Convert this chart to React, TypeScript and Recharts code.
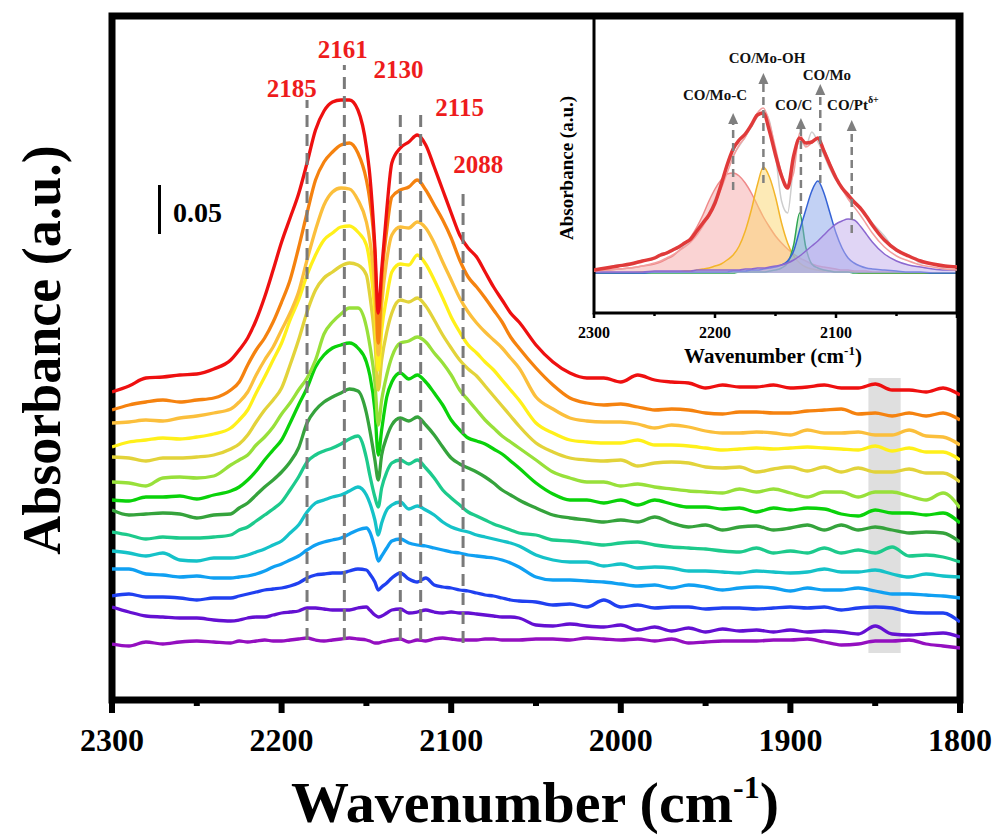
import React from 'react';
import {
  LineChart, ComposedChart, Line, Area, XAxis, YAxis,
  ReferenceLine, ReferenceArea, ReferenceDot,
} from 'recharts';

const FONT = '"Liberation Serif", "Times New Roman", serif';

// ---------- main chart data (wavenumber, cm-1) ----------
const WN = [
  2300, 2290, 2280, 2270, 2260, 2250, 2240, 2230,
  2225, 2220, 2215, 2210, 2205, 2200, 2195, 2190, 2185, 2180, 2175, 2170, 2165, 2160, 2155, 2150,
  2148, 2145, 2143, 2141, 2138, 2135,
  2130, 2125, 2120, 2115, 2110, 2105, 2100, 2095, 2090, 2085, 2080, 2075, 2070, 2065, 2060,
  2050, 2040, 2030, 2020, 2010, 2000, 1990, 1980, 1970, 1960, 1950, 1940, 1930, 1920, 1910, 1900,
  1890, 1880, 1870, 1860, 1850, 1840, 1830, 1820, 1810, 1800,
];

// absorbance with stacking offsets (arbitrary units)
const S_RED = [
  308, 314, 322, 323, 325, 326, 331, 340,
  350, 362, 380, 403, 430, 458, 482, 506, 537, 570, 589, 598, 600, 600, 590, 553,
  525, 453, 387, 430, 490, 537,
  552, 558, 565, 555, 533, 510, 487, 465, 452, 443, 428, 413, 400, 387, 378,
  355, 338, 327, 322, 322, 318, 325, 320, 318, 317, 312, 315, 313, 313, 315, 312, 313, 315, 312, 312, 316, 310, 310, 308, 312, 305,
];
const S_ORANGE = [
  290, 295, 298, 300, 298, 300, 302, 310,
  318, 335, 350, 362, 378, 398, 420, 452, 487, 520, 538, 548, 555, 557, 547, 520,
  500, 445, 357, 420, 470, 503,
  510, 513, 520, 510, 495, 480, 462, 440, 423, 413, 402, 390, 378, 363, 352,
  332, 315, 302, 297, 295, 296, 293, 290, 291, 290, 287, 286, 288, 288, 287, 287, 289, 290, 291, 286, 287, 284, 287, 284, 287, 280,
];
const S_LTORANGE = [
  277, 278, 280, 279, 282, 284, 287, 291,
  298, 308, 325, 340, 353, 370, 387, 408, 440, 470, 495, 508, 512, 511, 500, 478,
  460, 410, 345, 395, 440, 465,
  473, 472, 478, 472, 457, 438, 420, 402, 388, 377, 368, 360, 352, 342, 332,
  303, 291, 282, 279, 278, 278, 276, 272, 275, 273, 269, 267, 267, 268, 267, 265, 270, 267, 267, 268, 265, 265, 270, 264, 263, 255,
];
const S_YELLOW = [
  253, 258, 260, 262, 261, 263, 266, 272,
  280, 290, 307, 323, 340, 357, 380, 400, 425, 445, 460, 467, 473, 474, 468, 455,
  437, 387, 330, 370, 403, 428,
  436, 435, 445, 436, 420, 402, 383, 368, 355, 347, 338, 330, 320, 310, 300,
  277, 267, 260, 258, 257, 257, 260, 255, 255, 254, 252, 250, 251, 252, 251, 252, 253, 252, 251, 250, 254, 249, 252, 248, 248, 240,
];
const S_OLIVE = [
  243, 242, 239, 242, 242, 243, 245, 251,
  256, 265, 278, 290, 300, 312, 335, 360, 388, 410, 422, 428, 434, 437, 435, 425,
  405, 360, 310, 340, 368, 387,
  400, 398, 402, 394, 380, 365, 352, 340, 331, 324, 314, 304, 294, 284, 274,
  257, 248, 242, 240, 239, 240, 234, 237, 238, 237, 233, 232, 233, 228, 231, 233, 229, 233, 228, 232, 228, 228, 231, 227, 227, 218,
];
const S_YGREEN = [
  218, 217, 214, 222, 223, 222, 224, 235,
  240, 245, 255, 263, 273, 286, 297, 310, 322, 340, 366, 378, 386, 392, 392, 373,
  355, 318, 275, 300, 325, 343,
  357, 359, 363, 358, 347, 337, 325, 310, 300, 290, 280, 272, 264, 258, 252,
  240, 228, 222, 218, 218, 214, 216, 213, 211, 209, 208, 207, 211, 208, 211, 207, 203, 208, 208, 203, 208, 208, 204, 200, 207, 192,
];
const S_GREEN = [
  200, 199, 203, 203, 204, 201, 205, 209,
  213, 220, 229, 240, 250, 260, 277, 295, 312, 333, 345, 352, 355, 357, 352, 338,
  325, 290, 245, 270, 303, 318,
  327, 321, 325, 318, 307, 295, 280, 270, 262, 259, 256, 251, 246, 239, 232,
  217, 206, 200, 200, 197, 200, 195, 200, 196, 193, 193, 191, 192, 188, 192, 190, 192, 191, 186, 184, 190, 187, 187, 185, 187, 177,
];
const S_DKGREEN = [
  190, 185, 186, 187, 186, 182, 185, 186,
  192, 197, 205, 213, 220, 228, 238, 252, 277, 290, 298, 303, 307, 311, 309, 287,
  270, 240, 220, 245, 263, 275,
  282, 279, 283, 275, 265, 253, 242, 236, 232, 228, 223, 217, 210, 205, 200,
  192, 185, 182, 180, 178, 180, 178, 183, 177, 173, 175, 170, 173, 174, 170, 172, 175, 170, 175, 170, 173, 170, 167, 168, 167, 158,
];
const S_TEAL = [
  168, 165, 161, 163, 162, 162, 163, 165,
  170, 173, 179, 185, 191, 198, 210, 223, 238, 245, 249, 252, 256, 261, 264, 242,
  225, 203, 193, 212, 228, 237,
  240, 236, 240, 232, 222, 210, 202, 195, 188, 184, 180, 176, 173, 170, 167,
  165, 160, 159, 157, 155, 157, 158, 155, 153, 152, 151, 149, 148, 152, 147, 149, 147, 152, 147, 150, 147, 153, 144, 145, 143, 138,
];
const S_CYAN = [
  149, 147, 144, 147, 140, 139, 142, 142,
  143, 145, 148, 151, 155, 159, 167, 175, 188, 197, 200, 203, 205, 209, 213, 205,
  197, 180, 165, 177, 190, 195,
  198, 191, 194, 190, 185, 178, 173, 170, 168, 165, 163, 161, 159, 157, 154,
  145, 140, 138, 138, 134, 136, 132, 133, 132, 129, 129, 128, 127, 129, 128, 127, 128, 131, 128, 128, 130, 126, 123, 126, 124, 123,
];
const S_SKY = [
  131, 131, 126, 125, 123, 124, 122, 122,
  123, 124, 126, 129, 133, 136, 140, 144, 150, 155, 158, 160, 162, 166, 170, 172,
  168, 152, 139, 144, 152, 159,
  161, 157, 155, 154, 152, 150, 148, 147, 145, 144, 143, 142, 140, 137, 133,
  123, 120, 120, 119, 118, 116, 114, 115, 112, 115, 113, 110, 112, 113, 112, 109, 112, 110, 110, 112, 109, 106, 106, 105, 104, 102,
];
const S_BLUE = [
  104, 106, 103, 103, 102, 100, 102, 102,
  104, 106, 108, 110, 111, 112, 114, 117, 122, 125, 126, 127, 127, 129, 131, 130,
  126, 118, 110, 113, 117, 122,
  127, 121, 118, 122, 115, 113, 112, 110, 109, 107, 105, 104, 102, 100, 99,
  98, 95, 96, 93, 100, 93, 95, 92, 93, 93, 91, 92, 92, 91, 92, 93, 92, 93, 90, 92, 93, 92, 88, 87, 87, 78,
];
const S_VIOLET = [
  93, 88, 84, 83, 82, 82, 80, 79,
  80, 82, 83, 83, 85, 87, 88, 89, 92, 92, 91, 90, 90, 90, 92, 93,
  90, 85, 83, 84, 87, 90,
  91, 87, 88, 90, 88, 87, 88, 87, 87, 86, 85, 84, 83, 83, 82,
  75, 74, 76, 74, 73, 75, 70, 73, 69, 72, 68, 71, 69, 70, 68, 70, 68, 69, 68, 66, 74, 66, 65, 66, 67, 63,
];
const S_PURPLE = [
  56, 54, 58, 56, 58, 59, 58, 57,
  59, 58, 59, 60, 59, 59, 60, 61, 62, 60, 59, 60, 61, 62, 61, 60,
  59, 57, 57, 58, 59, 60,
  61, 58, 60, 59, 61, 62, 61, 60, 60, 60, 61, 61, 60, 60, 60,
  61, 61, 60, 62, 61, 60, 61, 59, 61, 57, 58, 59, 59, 59, 60, 60, 61, 58, 55, 56, 59, 59, 60, 56, 54, 52,
];

// drawn bottom-up so the top (red) spectrum is painted last
const SERIES = [
  { key: 's14', vals: S_PURPLE, color: '#940fc0' },
  { key: 's13', vals: S_VIOLET, color: '#6410d2' },
  { key: 's12', vals: S_BLUE, color: '#2040f0' },
  { key: 's11', vals: S_SKY, color: '#10a0f2' },
  { key: 's10', vals: S_CYAN, color: '#15c2c8' },
  { key: 's9', vals: S_TEAL, color: '#1dca8c' },
  { key: 's8', vals: S_DKGREEN, color: '#35a33c' },
  { key: 's7', vals: S_GREEN, color: '#0ad20a' },
  { key: 's6', vals: S_YGREEN, color: '#98e03a' },
  { key: 's5', vals: S_OLIVE, color: '#e2d33a' },
  { key: 's4', vals: S_YELLOW, color: '#fff01a' },
  { key: 's3', vals: S_LTORANGE, color: '#fbbf3c' },
  { key: 's2', vals: S_ORANGE, color: '#f5820f' },
  { key: 's1', vals: S_RED, color: '#ee1010' },
];

const MAIN_TICKS = [2300, 2250, 2200, 2150, 2100, 2050, 2000, 1950, 1900, 1850, 1800];

// peak markers: [wavenumber position, label, top, bottom]
const PEAK_LINES = [
  { w: 2185, top: 600, bottom: 60 },
  { w: 2163, top: 635, bottom: 60 },
  { w: 2130, top: 592, bottom: 60 },
  { w: 2118, top: 590, bottom: 60 },
  { w: 2093, top: 507, bottom: 57 },
];
const PEAK_LABELS = [
  { text: '2185', w: 2194, v: 612 },
  { text: '2161', w: 2164, v: 651 },
  { text: '2130', w: 2131, v: 631 },
  { text: '2115', w: 2095, v: 593 },
  { text: '2088', w: 2084, v: 536 },
];

const mainRows = WN.map((w, i) => {
  const r: any = { w };
  SERIES.forEach((s) => { r[s.key] = s.vals[i]; });
  return r;
});

// ---------- inset data ----------
const IWN = [
  2300, 2290, 2280, 2270, 2260, 2250,
  2245, 2240, 2235, 2230, 2225, 2220, 2215, 2210, 2205, 2200, 2195, 2190, 2185, 2180, 2175, 2170, 2165, 2160,
  2155, 2150, 2145, 2140, 2135, 2130, 2125, 2120, 2115, 2110, 2105, 2100, 2095, 2090, 2085, 2080, 2075, 2070,
  2060, 2050, 2040, 2030, 2020, 2010, 2000,
];
const I_MOC = [
  3, 3, 4, 5, 7, 9,
  11, 14, 17, 22, 28, 36, 46, 58, 72, 84, 93, 99, 100, 97, 90, 80, 68, 56,
  46, 37, 30, 24, 19, 15, 12, 9, 7, 6, 5, 4, 3, 3, 2, 2, 2, 1,
  1, 1, 0, 0, 0, 0, 0,
];
const I_MOOH = [
  0, 0, 0, 0, 1, 1,
  1, 1, 1, 1, 2, 2, 3, 4, 5, 7, 9, 13, 18, 27, 42, 63, 88, 106,
  96, 76, 50, 30, 17, 10, 6, 4, 3, 2, 2, 1, 1, 1, 1, 0, 0, 0,
  0, 0, 0, 0, 0, 0, 0,
];
const I_C = [
  0, 0, 0, 0, 0, 0,
  0, 0, 0, 0, 0, 0, 0, 0, 0, 0, 0, 0, 0, 1, 1, 1, 1, 1,
  2, 3, 5, 10, 28, 60, 26, 9, 5, 3, 2, 1, 1, 1, 0, 0, 0, 0,
  0, 0, 0, 0, 0, 0, 0,
];
const I_MO = [
  0, 0, 0, 0, 0, 1,
  1, 1, 1, 1, 1, 1, 1, 1, 1, 1, 1, 1, 2, 2, 2, 3, 3, 4,
  5, 6, 8, 12, 22, 43, 63, 82, 92, 80, 60, 40, 25, 15, 10, 7, 5, 4,
  3, 2, 1, 1, 0, 0, 0,
];
const I_PT = [
  1, 1, 1, 1, 1, 2,
  2, 2, 2, 2, 2, 2, 3, 3, 3, 3, 3, 3, 3, 3, 4, 4, 5, 5,
  6, 7, 8, 10, 13, 17, 22, 27, 32, 38, 44, 49, 52, 54, 53, 47, 39, 31,
  19, 12, 8, 6, 4, 3, 3,
];
const I_ENV = [
  3, 5, 7, 9, 12, 15,
  18, 20, 23, 26, 30, 34, 42, 50, 58, 70, 88, 108, 124, 133, 139, 148, 158, 160,
  142, 118, 97, 85, 117, 135, 130, 131, 135, 122, 108, 95, 85, 78, 71, 65, 57, 48,
  33, 23, 17, 12, 9, 7, 6,
];
const I_FIT = [
  2, 3, 4, 5, 7, 10,
  12, 15, 18, 22, 26, 31, 38, 47, 57, 70, 84, 100, 116, 128, 136, 148, 160, 165,
  150, 125, 100, 88, 100, 140, 126, 130, 134, 124, 110, 96, 84, 74, 66, 58, 49, 40,
  26, 17, 12, 8, 6, 4, 3,
];
const I_RAW = [
  2, 5, 8, 8, 12, 14,
  17, 19, 22, 25, 28, 33, 40, 48, 60, 74, 90, 105, 118, 127, 136, 146, 156, 162,
  152, 118, 72, 60, 108, 132, 127, 141, 131, 118, 104, 93, 86, 76, 70, 64, 57, 50,
  37, 22, 18, 10, 9, 5, 7,
];
const insetRows = IWN.map((w, i) => ({
  w, moc: I_MOC[i], mooh: I_MOOH[i], c: I_C[i], mo: I_MO[i], pt: I_PT[i],
  env: I_ENV[i], fit: I_FIT[i], raw: I_RAW[i],
}));
const INSET_TICKS = [2300, 2250, 2200, 2150, 2100, 2050, 2000];
const INSET_COMPONENTS = [
  { key: 'moc', fill: '#f5a8a8', stroke: '#ef8a8a' },
  { key: 'mooh', fill: '#fbd66e', stroke: '#f3b52a' },
  { key: 'c', fill: '#9fd8ac', stroke: '#2fa552' },
  { key: 'mo', fill: '#86a4ea', stroke: '#3563d6' },
  { key: 'pt', fill: '#c2aceb', stroke: '#8c68d0' },
];
const INSET_ARROWS = [
  { w: 2185, from: 83, to: 152, tip: 160 },
  { w: 2160, from: 90, to: 192, tip: 200 },
  { w: 2129, from: 59, to: 147, tip: 155 },
  { w: 2113, from: 90, to: 181, tip: 189 },
  { w: 2087, from: 40, to: 145, tip: 153 },
];
const INSET_LABELS = [
  { text: 'CO/Mo-C', w: 2200, v: 178 },
  { text: 'CO/Mo-OH', w: 2157, v: 215 },
  { text: 'CO/C', w: 2135, v: 168 },
  { text: 'CO/Mo', w: 2107.5, v: 198 },
];

const MainTick = (props: any) => {
  const { x, y, payload } = props;
  const v = payload.value;
  const major = v % 100 === 0;
  return (
    <g>
      <line x1={x} x2={x} y1={y} y2={y + (major ? 13 : 6)} stroke="#000" strokeWidth={6} />
      {major && (
        <text x={x} y={y + 51} textAnchor="middle" fontFamily={FONT} fontWeight="bold" fontSize={32} fill="#000">
          {v}
        </text>
      )}
    </g>
  );
};

const InsetTick = (props: any) => {
  const { x, y, payload } = props;
  const v = payload.value;
  const major = v % 100 === 0;
  return (
    <g>
      <line x1={x} x2={x} y1={y} y2={y + (major ? 5 : 3)} stroke="#000" strokeWidth={2.5} />
      {major && v !== 2000 && (
        <text x={x} y={y + 25} textAnchor="middle" fontFamily={FONT} fontWeight="bold" fontSize={16} fill="#000">
          {v}
        </text>
      )}
    </g>
  );
};

const textShape = (text: string, size: number, color: string, anchor = 'middle') => (p: any) => (
  <text x={p.cx} y={p.cy} textAnchor={anchor} dominantBaseline="central" fontFamily={FONT}
    fontWeight="bold" fontSize={size} fill={color}>{text}</text>
);

const triShape = (p: any) => (
  <polygon points={`${p.cx},${p.cy} ${p.cx - 5},${p.cy + 11} ${p.cx + 5},${p.cy + 11}`} fill="#7f7f7f" />
);

const ptLabel = (p: any) => (
  <text x={p.cx} y={p.cy} textAnchor="middle" dominantBaseline="central" fontFamily={FONT}
    fontWeight="bold" fontSize={15} fill="#111">
    CO/Pt<tspan dy={-6} fontSize={10}>δ+</tspan>
  </text>
);

export default function App() {
  return (
    <div style={{ position: 'absolute', left: 0, top: 0, width: 1000, height: 836, background: '#fff' }}>
      <div style={{ position: 'absolute', left: 0, top: 0 }}>
        <LineChart width={1000} height={836} data={mainRows}
          margin={{ top: 16, right: 40, bottom: 106, left: 112 }}>
          <XAxis dataKey="w" type="number" domain={[1800, 2300]} reversed allowDataOverflow
            ticks={MAIN_TICKS} interval={0} tickSize={0} tickMargin={0} tickLine={false}
            axisLine={false} height={30} tick={(p: any) => <MainTick {...p} />} />
          <YAxis type="number" domain={[0, 684]} hide width={0} allowDataOverflow />
          {SERIES.map((s) => (
            <Line key={s.key} type="monotone" dataKey={s.key} stroke={s.color} strokeWidth={3.3}
              dot={false} activeDot={false} isAnimationActive={false} />
          ))}
          {PEAK_LINES.map((p) => (
            <ReferenceLine key={p.w} segment={[{ x: p.w, y: p.bottom }, { x: p.w, y: p.top }]}
              stroke="#7a7a7a" strokeWidth={3} strokeDasharray="12 7" />
          ))}
          {PEAK_LABELS.map((p) => (
            <ReferenceDot key={p.text} x={p.w} y={p.v} r={0} shape={textShape(p.text, 25, '#ee1c1c')} />
          ))}
          <ReferenceArea x1={1854} x2={1835} y1={47} y2={322} fill="#c4c4c4" fillOpacity={0.55} stroke="none" />
          <ReferenceLine segment={[{ x: 2272, y: 466 }, { x: 2272, y: 515 }]} stroke="#000" strokeWidth={3} />
          <ReferenceDot x={2264} y={488} r={0} shape={textShape('0.05', 28, '#000', 'start')} />
          <ReferenceArea x1={2300} x2={1800} y1={0} y2={684} fill="none" fillOpacity={0}
            stroke="#000" strokeWidth={7} />
        </LineChart>
      </div>

      <div style={{ position: 'absolute', left: 0, top: 0 }}>
        <ComposedChart width={1000} height={836} data={insetRows}
          margin={{ top: 16, right: 43, bottom: 493, left: 594 }}>
          <XAxis dataKey="w" type="number" domain={[2000, 2300]} reversed allowDataOverflow
            ticks={INSET_TICKS} interval={0} tickSize={0} tickMargin={0} tickLine={false}
            axisLine={false} height={30} tick={(p: any) => <InsetTick {...p} />} />
          <YAxis type="number" domain={[-40, 257]} hide width={0} allowDataOverflow />
          {INSET_COMPONENTS.map((c) => (
            <Area key={c.key} type="monotone" dataKey={c.key} fill={c.fill} fillOpacity={0.5}
              stroke={c.stroke} strokeWidth={1.5} dot={false} activeDot={false} isAnimationActive={false} />
          ))}
          <Line type="monotone" dataKey="raw" stroke="#cdcdcd" strokeWidth={1.5} dot={false}
            activeDot={false} isAnimationActive={false} />
          <Line type="monotone" dataKey="fit" stroke="#f2a0a0" strokeWidth={1.5} dot={false}
            activeDot={false} isAnimationActive={false} />
          <Line type="monotone" dataKey="env" stroke="#e03a3a" strokeWidth={3.5} dot={false}
            activeDot={false} isAnimationActive={false} />
          {INSET_ARROWS.map((a) => (
            <ReferenceLine key={`l${a.w}`} segment={[{ x: a.w, y: a.from }, { x: a.w, y: a.to }]}
              stroke="#808080" strokeWidth={2.5} strokeDasharray="8 5" />
          ))}
          {INSET_ARROWS.map((a) => (
            <ReferenceDot key={`t${a.w}`} x={a.w} y={a.tip} r={0} shape={triShape} />
          ))}
          {INSET_LABELS.map((l) => (
            <ReferenceDot key={l.text} x={l.w} y={l.v} r={0} shape={textShape(l.text, 15, '#111')} />
          ))}
          <ReferenceDot x={2086} y={168} r={0} shape={ptLabel} />
          <ReferenceArea x1={2300} x2={2000} y1={-40} y2={257} fill="none" fillOpacity={0}
            stroke="#000" strokeWidth={3} />
        </ComposedChart>
      </div>

      <svg width={1000} height={836} style={{ position: 'absolute', left: 0, top: 0, pointerEvents: 'none' }}>
        <text transform="translate(42,350) rotate(-90)" textAnchor="middle" dominantBaseline="central"
          fontFamily={FONT} fontWeight="bold" fontSize={54} fill="#000">Absorbance (a.u.)</text>
        <text x={535} y={822} textAnchor="middle" fontFamily={FONT} fontWeight="bold" fontSize={58} fill="#000">
          Wavenumber (cm<tspan dy={-24} fontSize={32}>-1</tspan><tspan dy={24}>)</tspan>
        </text>
        <text transform="translate(566,168) rotate(-90)" textAnchor="middle" dominantBaseline="central"
          fontFamily={FONT} fontWeight="bold" fontSize={19} fill="#000">Absorbance (a.u.)</text>
        <text x={773} y={363} textAnchor="middle" fontFamily={FONT} fontWeight="bold" fontSize={21} fill="#000">
          Wavenumber (cm<tspan dy={-8} fontSize={13}>-1</tspan><tspan dy={8}>)</tspan>
        </text>
      </svg>
    </div>
  );
}
